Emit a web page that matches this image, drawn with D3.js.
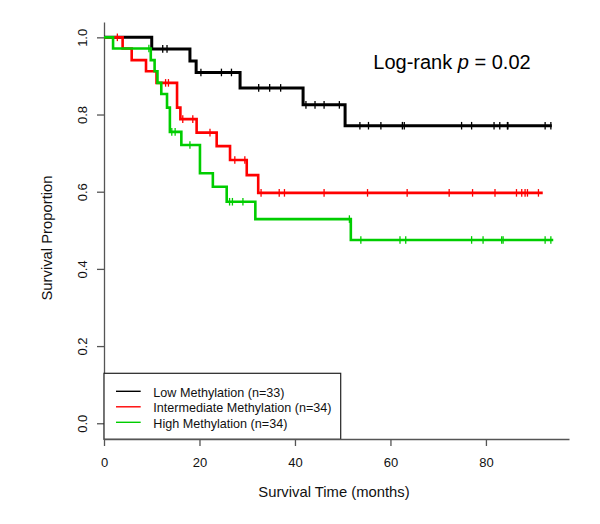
<!DOCTYPE html>
<html>
<head>
<meta charset="utf-8">
<script src="https://cdn.jsdelivr.net/npm/d3@7"></script>
<style>
  html, body { margin: 0; padding: 0; background: #fff; }
  svg { display: block; font-family: "Liberation Sans", Arial, sans-serif; }
</style>
</head>
<body>
<svg id="chart" width="600" height="524"></svg>
<script>
// ---- data ----
const seriesNames = ["Low Methylation (n=33)", "Intermediate Methylation (n=34)", "High Methylation (n=34)"];
const seriesColors = ["#000000", "#ff0000", "#00cd00"];

const lowTimes  = [0, 10.0, 18.0, 19.3, 28.5, 41.7, 50.5];
const lowSurv   = [1.0, 0.970, 0.939, 0.909, 0.869, 0.825, 0.771];
const lowEnd    = 93.8;
const lowCensor = [12.3, 13.2, 20.3, 24.6, 26.7, 32.4, 34.7, 37.0, 42.3, 44.2, 46.1, 49.3,
                   53.6, 55.4, 58.0, 62.5, 62.9, 74.9, 77.0, 81.7, 82.9, 84.5, 84.6, 92.4, 93.6];

const intTimes  = [0, 3.9, 5.8, 8.8, 11.0, 15.3, 16.0, 19.4, 23.6, 26.4, 29.9, 32.3];
const intSurv   = [1.0, 0.971, 0.941, 0.912, 0.882, 0.818, 0.788, 0.753, 0.718, 0.682, 0.643, 0.597];
const intEnd    = 91.9;
const intCensor = [2.8, 12.9, 13.5, 16.5, 18.6, 22.2, 27.4, 29.5, 32.9, 36.7, 37.8, 46.1, 55.2,
                   63.5, 72.3, 77.2, 81.9, 86.4, 87.5, 88.2, 88.7, 91.0];

const highTimes  = [0, 1.9, 9.8, 10.6, 11.2, 12.0, 13.2, 13.8, 16.2, 20.1, 22.8, 25.7, 31.7, 51.7];
const highSurv   = [1.0, 0.971, 0.941, 0.912, 0.882, 0.853, 0.818, 0.755, 0.721, 0.648, 0.613, 0.574, 0.529, 0.475];
const highEnd    = 94.1;
const highCensor = [9.4, 14.2, 14.9, 18.0, 26.3, 26.9, 29.1, 51.4, 53.8, 62.0, 63.2, 77.0, 79.4,
                    83.3, 83.6, 92.4, 93.6];

const xTicks = [0, 20, 40, 60, 80];
const yTicks = [0, 0.2, 0.4, 0.6, 0.8, 1.0];
const annotation = ["Log-rank ", "p", " = 0.02"];

// ---- layout ----
const svg = d3.select("#chart");
const x = d3.scaleLinear().domain([0, 97.4]).range([104, 569]);
const y = d3.scaleLinear().domain([-0.04, 1.04]).range([438.7, 21.9]);
const axisColor = "#555";

// x axis
const gx = svg.append("g").attr("transform", "translate(0,439)")
  .call(d3.axisBottom(x).tickValues(xTicks).tickSize(7).tickSizeOuter(0).tickPadding(12).tickFormat(d3.format("d")));
gx.select(".domain").attr("stroke", axisColor).attr("stroke-width", 1.3);
gx.selectAll(".tick line").attr("stroke", axisColor).attr("stroke-width", 1.3);
gx.selectAll(".tick text").attr("fill", "#111").attr("font-size", 13)
  .attr("font-family", "Liberation Sans, Arial, sans-serif");

// y axis
const gy = svg.append("g").attr("transform", "translate(104,0)")
  .call(d3.axisLeft(y).tickValues(yTicks).tickSize(7).tickSizeOuter(0).tickFormat(d3.format(".1f")));
gy.select(".domain").attr("stroke", axisColor).attr("stroke-width", 1.3);
gy.selectAll(".tick line").attr("stroke", axisColor).attr("stroke-width", 1.3);
gy.selectAll(".tick text").attr("fill", "#111").attr("font-size", 13)
  .attr("font-family", "Liberation Sans, Arial, sans-serif")
  .attr("x", 0).attr("dy", "0.36em").attr("text-anchor", "middle")
  .attr("transform", "translate(-21.5,0) rotate(-90)");

// axis titles
svg.append("text").attr("x", 334).attr("y", 497.3).attr("text-anchor", "middle")
  .attr("font-size", 14.8).attr("fill", "#111").text("Survival Time (months)");
svg.append("text").attr("transform", "translate(46.7,238) rotate(-90)")
  .attr("dy", "0.36em").attr("text-anchor", "middle")
  .attr("font-size", 14.8).attr("fill", "#111").text("Survival Proportion");

// ---- curves ----
const series = [
  { times: lowTimes,  surv: lowSurv,  end: lowEnd,  censor: lowCensor,  color: seriesColors[0], w: 3 },
  { times: intTimes,  surv: intSurv,  end: intEnd,  censor: intCensor,  color: seriesColors[1], w: 2.6 },
  { times: highTimes, surv: highSurv, end: highEnd, censor: highCensor, color: seriesColors[2], w: 2.6 }
];

const line = d3.line().x(d => x(d[0])).y(d => y(d[1])).curve(d3.curveStepAfter);

series.forEach(s => {
  const pts = s.times.map((t, i) => [t, s.surv[i]]);
  pts.push([s.end, s.surv[s.surv.length - 1]]);
  const g = svg.append("g");
  g.append("path").attr("d", line(pts)).attr("fill", "none")
    .attr("stroke", s.color).attr("stroke-width", s.w).attr("stroke-linejoin", "miter");
  const survAt = t => s.surv[Math.max(0, d3.bisectRight(s.times, t) - 1)];
  g.selectAll("line.c").data(s.censor).join("line").attr("class", "c")
    .attr("x1", d => x(d)).attr("x2", d => x(d))
    .attr("y1", d => y(survAt(d)) - 3.8).attr("y2", d => y(survAt(d)) + 3.8)
    .attr("stroke", s.color).attr("stroke-width", 1.3);
});

// ---- annotation ----
const ann = svg.append("text").attr("x", 373.3).attr("y", 69).attr("font-size", 20).attr("fill", "#000");
ann.append("tspan").text(annotation[0]);
ann.append("tspan").attr("font-style", "italic").text(annotation[1]);
ann.append("tspan").text(annotation[2]);

// ---- legend ----
const lg = svg.append("g");
lg.append("rect").attr("x", 104).attr("y", 373.3).attr("width", 236.7).attr("height", 66)
  .attr("fill", "#fff").attr("stroke", "#222").attr("stroke-width", 1.2);
const legY = [391.3, 406.8, 422.3];
seriesNames.forEach((name, i) => {
  lg.append("line").attr("x1", 116).attr("x2", 140.7).attr("y1", legY[i]).attr("y2", legY[i])
    .attr("stroke", seriesColors[i]).attr("stroke-width", 1.4);
  lg.append("text").attr("x", 153.3).attr("y", legY[i] + 5.2).attr("font-size", 12.6)
    .attr("fill", "#111").text(name);
});
// redraw x-axis domain on top of legend border
gx.raise();
</script>
</body>
</html>
